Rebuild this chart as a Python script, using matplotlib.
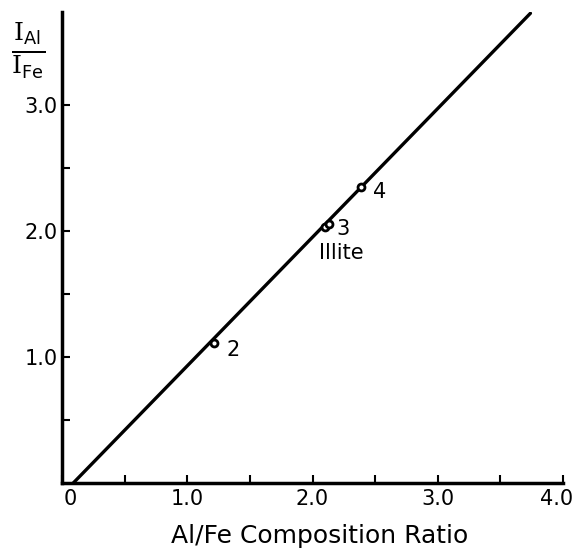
import matplotlib
matplotlib.use("Agg")
import matplotlib.pyplot as plt
import matplotlib.transforms as mtransforms
from matplotlib.ticker import FixedLocator

# Data
point_x = [1.21, 2.10, 2.13, 2.39]
point_y = [1.11, 2.03, 2.06, 2.35]
fit_x = [0.09, 3.74]
fit_y = [0.00, 3.73]
labels = [("2", 1.31, 1.06), ("3", 2.19, 2.02), ("Illite", 2.05, 1.83), ("4", 2.48, 2.31)]
xticks = [0, 1, 2, 3, 4]
xticklabels = ["0", "1.0", "2.0", "3.0", "4.0"]
xminor = [0.5, 1.5, 2.5, 3.5]
yticks = [1, 2, 3]
yticklabels = ["1.0", "2.0", "3.0"]
yminor = [0.5, 1.5, 2.5]

plt.rcParams['font.family'] = ['DejaVu Sans']
plt.rcParams['mathtext.fontset'] = 'custom'
plt.rcParams['mathtext.rm'] = 'DejaVu Serif'
plt.rcParams['mathtext.sf'] = 'DejaVu Sans'

fig = plt.figure(figsize=(5.76, 5.52), dpi=100)
ax = fig.add_axes([62/576, 1-483/552, (563-62)/576, (483-12)/552])
ax.set_xlim(0, 4.0)
ax.set_ylim(0, 3.74)

ax.plot(fit_x, fit_y, color='black', lw=2.4, solid_capstyle='round', zorder=2)
ax.plot(point_x, point_y, 'o', ms=5, mfc='white', mec='black', mew=2, zorder=3)
for t, x, y in labels:
    ax.text(x, y, t, fontsize=15, ha='left', va='center', color='black')

for s in ['top', 'right']:
    ax.spines[s].set_visible(False)
for s in ['left', 'bottom']:
    ax.spines[s].set_linewidth(2.5)

ax.xaxis.set_major_locator(FixedLocator(xticks))
ax.set_xticklabels(xticklabels)
ax.yaxis.set_major_locator(FixedLocator(yticks))
ax.set_yticklabels(yticklabels)
ax.xaxis.set_minor_locator(FixedLocator(xminor))
ax.yaxis.set_minor_locator(FixedLocator(yminor))
ax.tick_params(which='both', direction='in', length=6, width=1.5, labelsize=15, pad=4)
ax.tick_params(axis='y', which='major', pad=3)

xl = ax.get_xticklabels()
xl[0].set_transform(xl[0].get_transform() + mtransforms.ScaledTranslation(8/100, 0, fig.dpi_scale_trans))
xl[-1].set_transform(xl[-1].get_transform() + mtransforms.ScaledTranslation(-6/100, 0, fig.dpi_scale_trans))

fig.text(320/576, 1-536/552, "Al/Fe Composition Ratio", fontsize=18, ha='center', va='center')
fig.text(28/576, 1-50/552, r'$\frac{\mathrm{I}_{\mathsf{Al}}}{\mathrm{I}_{\mathsf{Fe}}}$',
         fontsize=26, ha='center', va='center')

fig.savefig("out.png", dpi=100)
